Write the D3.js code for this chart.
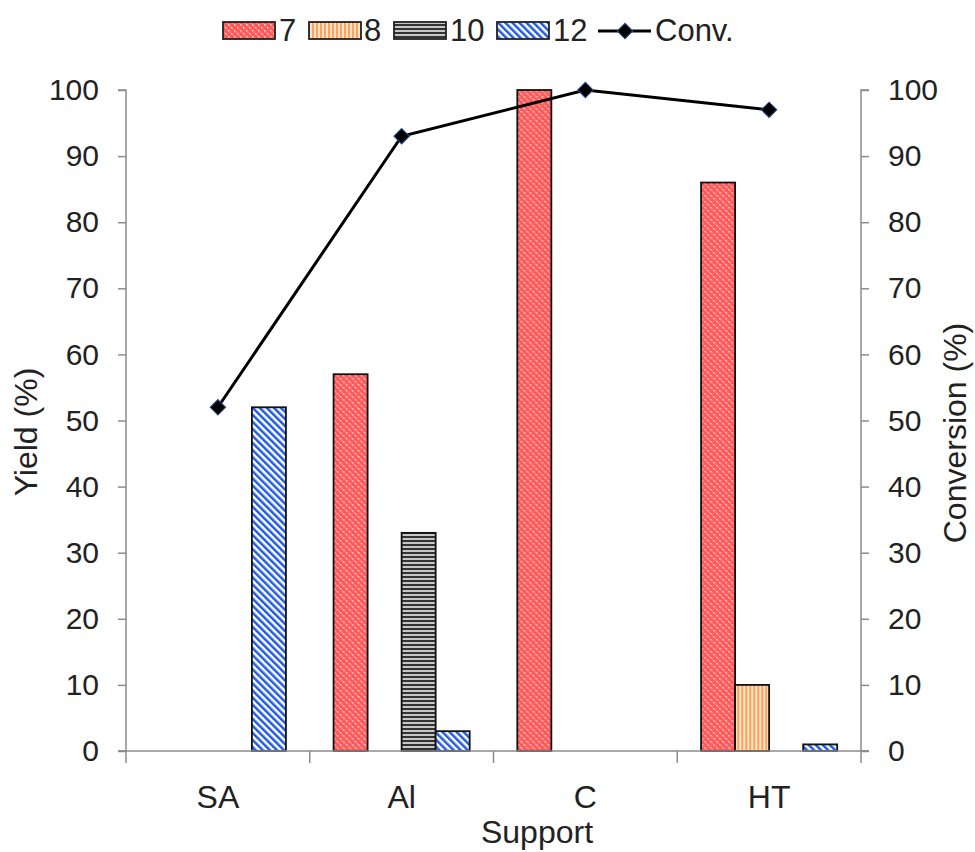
<!DOCTYPE html>
<html>
<head>
<meta charset="utf-8">
<script src="https://cdn.jsdelivr.net/npm/d3@7"></script>
<style>
  html, body { margin: 0; padding: 0; background: #fff; }
  svg { display: block; }
  text { font-family: "Liberation Sans", Arial, sans-serif; fill: #222; }
</style>
</head>
<body>
<svg id="chart" width="975" height="852"></svg>
<script>
// Supports on the x axis
const supports = ["SA", "Al", "C", "HT"];
// Product series (yield %)
const seriesKeys = ["7", "8", "10", "12"];
const yield7  = [0, 57, 100, 86];
const yield8  = [0, 0, 0, 10];
const yield10 = [0, 33, 0, 0];
const yield12 = [52, 3, 0, 1];
// Conversion (%)
const conversion = [52, 93, 100, 97];
const tickValues = [0, 10, 20, 30, 40, 50, 60, 70, 80, 90, 100];

const seriesValues = { "7": yield7, "8": yield8, "10": yield10, "12": yield12 };

const FS_TICK = 30, FS_LABEL = 32, FS_LEGEND = 31;
const svg = d3.select("#chart");
const margin = { left: 126, right: 114, top: 90, bottom: 101 };
const W = 975, H = 852;
const x0 = margin.left, x1 = W - margin.right;
const yTop = margin.top, yBot = H - margin.bottom;

// Fill patterns for each series
const defs = svg.append("defs");
function pat(id, w, h, build) {
  const p = defs.append("pattern").attr("id", id)
    .attr("patternUnits", "userSpaceOnUse").attr("width", w).attr("height", h);
  build(p);
}
pat("p7", 6, 6, p => {
  p.append("rect").attr("width", 6).attr("height", 6).attr("fill", "#ff5858");
  p.append("rect").attr("x", 0).attr("y", 0).attr("width", 1.5).attr("height", 1.5).attr("fill", "#ffd6d6");
  p.append("rect").attr("x", 3).attr("y", 3).attr("width", 1.5).attr("height", 1.5).attr("fill", "#ffd6d6");
  p.append("rect").attr("x", 1.5).attr("y", 1.5).attr("width", 1.5).attr("height", 1.5).attr("fill", "#ff8888");
  p.append("rect").attr("x", 4.5).attr("y", 4.5).attr("width", 1.5).attr("height", 1.5).attr("fill", "#ff8888");
});
pat("p8", 4, 4, p => {
  p.append("rect").attr("width", 4).attr("height", 4).attr("fill", "#ffe3c8");
  p.append("rect").attr("x", 0).attr("width", 2).attr("height", 4).attr("fill", "#f9a460");
});
pat("p10", 4, 4, p => {
  p.append("rect").attr("width", 4).attr("height", 4).attr("fill", "#c8c8c8");
  p.append("rect").attr("y", 0).attr("width", 4).attr("height", 2).attr("fill", "#333");
});
pat("p12", 5, 5, p => {
  p.attr("patternTransform", "rotate(-45)");
  p.append("rect").attr("width", 5).attr("height", 5).attr("fill", "#ffffff");
  p.append("rect").attr("x", 0).attr("width", 2.5).attr("height", 5).attr("fill", "#1f5be0");
});
const fillFor = { "7": "url(#p7)", "8": "url(#p8)", "10": "url(#p10)", "12": "url(#p12)" };

// Scales
const xBand = d3.scaleBand().domain(supports).range([x0, x1]).paddingInner(0).paddingOuter(0);
const xInner = d3.scaleBand().domain(seriesKeys)
  .range([0, xBand.bandwidth()]).paddingInner(0).paddingOuter(0.7);
const yLeft = d3.scaleLinear().domain([0, 100]).range([yBot, yTop]);
const yRight = d3.scaleLinear().domain([0, 100]).range([yBot, yTop]);

const axisColor = "#8c8c8c";

// Bars
const groups = svg.append("g").selectAll("g").data(supports).join("g")
  .attr("transform", d => `translate(${xBand(d)},0)`);
groups.selectAll("rect")
  .data((d, i) => seriesKeys.map(k => ({ k, v: seriesValues[k][i] })).filter(o => o.v > 0))
  .join("rect")
  .attr("x", d => xInner(d.k))
  .attr("width", xInner.bandwidth())
  .attr("y", d => yLeft(d.v))
  .attr("height", d => yLeft(0) - yLeft(d.v))
  .attr("fill", d => fillFor[d.k])
  .attr("stroke", "#111")
  .attr("stroke-width", 1.8);

// Left axis
const gl = svg.append("g").attr("transform", `translate(${x0},0)`)
  .call(d3.axisLeft(yLeft).tickValues(tickValues).tickSize(8).tickPadding(19));
// Right axis
const gr = svg.append("g").attr("transform", `translate(${x1},0)`)
  .call(d3.axisRight(yRight).tickValues(tickValues).tickSize(8).tickPadding(19));
// Bottom axis with ticks at band boundaries
const gb = svg.append("g").attr("transform", `translate(0,${yBot})`);
gb.append("line").attr("x1", x0 - 8).attr("x2", x1 + 8).attr("y1", 0).attr("y2", 0)
  .attr("stroke", axisColor).attr("stroke-width", 1.5);
const bounds = supports.map(s => xBand(s)).concat([x1]);
gb.selectAll("line.tk").data(bounds).join("line").attr("class", "tk")
  .attr("x1", d => d).attr("x2", d => d).attr("y1", 0).attr("y2", 12)
  .attr("stroke", axisColor).attr("stroke-width", 1.5);
gb.selectAll("text").data(supports).join("text")
  .attr("x", d => xBand(d) + xBand.bandwidth() / 2)
  .attr("y", 57)
  .attr("text-anchor", "middle")
  .attr("font-size", FS_LABEL)
  .text(d => d);

[gl, gr].forEach(g => {
  g.select(".domain").attr("stroke", axisColor).attr("stroke-width", 1.5);
  g.selectAll(".tick line").attr("stroke", axisColor).attr("stroke-width", 1.5);
  g.selectAll(".tick text").attr("font-size", FS_TICK)
    .attr("font-family", "'Liberation Sans', Arial, sans-serif").attr("fill", "#222");
});
gl.select(".domain").attr("d", `M-8,${yTop}H0V${yBot}H-8`);
gr.select(".domain").attr("d", `M8,${yTop}H0V${yBot}H8`);

// Axis titles
svg.append("text").attr("transform", `translate(37,432) rotate(-90)`)
  .attr("text-anchor", "middle").attr("font-size", FS_LABEL).text("Yield (%)");
svg.append("text").attr("transform", `translate(966,433) rotate(-90)`)
  .attr("text-anchor", "middle").attr("font-size", FS_LABEL).text("Conversion (%)");
svg.append("text").attr("x", 537).attr("y", 843)
  .attr("text-anchor", "middle").attr("font-size", FS_LABEL).text("Support");

// Conversion line
const cx = (d, i) => xBand(supports[i]) + xBand.bandwidth() / 2;
const line = d3.line().x(cx).y(d => yRight(d));
svg.append("path").datum(conversion).attr("d", line)
  .attr("fill", "none").attr("stroke", "#000").attr("stroke-width", 3);
svg.append("g").selectAll("path").data(conversion).join("path")
  .attr("d", d3.symbol().type(d3.symbolSquare).size(120))
  .attr("transform", (d, i) => `translate(${cx(d, i)},${yRight(d)}) rotate(45)`)
  .attr("fill", "#000").attr("stroke", "#2a4d8a").attr("stroke-width", 1);

// Legend
const legend = svg.append("g");
const legendItems = [
  { key: "7", x: 223, tx: 279 },
  { key: "8", x: 309, tx: 364 },
  { key: "10", x: 394, tx: 450 },
  { key: "12", x: 497, tx: 553 }
];
legendItems.forEach(it => {
  legend.append("rect").attr("x", it.x).attr("y", 22).attr("width", 52).attr("height", 17)
    .attr("fill", fillFor[it.key]).attr("stroke", "#222").attr("stroke-width", 1.8);
  legend.append("text").attr("x", it.tx).attr("y", 41).attr("font-size", FS_LEGEND).text(it.key);
});
legend.append("line").attr("x1", 598).attr("x2", 651).attr("y1", 31).attr("y2", 31)
  .attr("stroke", "#000").attr("stroke-width", 3);
legend.append("path").attr("d", d3.symbol().type(d3.symbolSquare).size(120))
  .attr("transform", "translate(625,31) rotate(45)")
  .attr("fill", "#000").attr("stroke", "#2a4d8a").attr("stroke-width", 1);
legend.append("text").attr("x", 655).attr("y", 41).attr("font-size", FS_LEGEND).text("Conv.");
</script>
</body>
</html>
